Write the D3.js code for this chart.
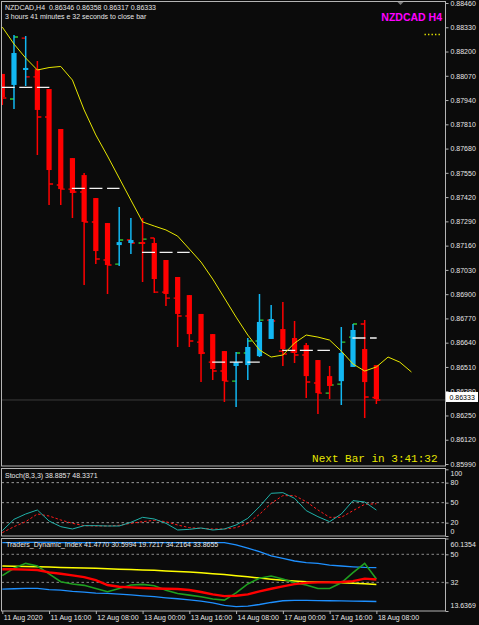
<!DOCTYPE html>
<html><head><meta charset="utf-8">
<script src="https://cdn.jsdelivr.net/npm/d3@7"></script>
<style>
html,body{margin:0;padding:0;background:#0b0b0b;}
svg{display:block;}
text{font-family:"Liberation Sans",Arial,sans-serif;}
</style></head><body>
<svg id="c" width="479" height="625"></svg>
<script>
// ---------------- DATA ----------------
const symbol = "NZDCAD", timeframe = "H4";
const currentOHLC = [0.86346, 0.86358, 0.86317, 0.86333];
const countdownText = "3 hours 41 minutes e 32 seconds to close bar";
const nextBarText = "Next Bar in 3:41:32";

const barTimes = [
  "11 Aug 00:00","11 Aug 04:00","11 Aug 08:00","11 Aug 12:00","11 Aug 16:00","11 Aug 20:00",
  "12 Aug 00:00","12 Aug 04:00","12 Aug 08:00","12 Aug 12:00","12 Aug 16:00","12 Aug 20:00",
  "13 Aug 00:00","13 Aug 04:00","13 Aug 08:00","13 Aug 12:00","13 Aug 16:00","13 Aug 20:00",
  "14 Aug 00:00","14 Aug 04:00","14 Aug 08:00","14 Aug 12:00","14 Aug 16:00","14 Aug 20:00",
  "17 Aug 00:00","17 Aug 04:00","17 Aug 08:00","17 Aug 12:00","17 Aug 16:00","17 Aug 20:00",
  "18 Aug 00:00","18 Aug 04:00","18 Aug 08:00"
];
const timeTickBars   = ["11 Aug 00:00","11 Aug 16:00","12 Aug 08:00","13 Aug 00:00","13 Aug 16:00","14 Aug 08:00","17 Aug 00:00","17 Aug 16:00","18 Aug 08:00"];
const timeTickLabels = ["11 Aug 2020","11 Aug 16:00","12 Aug 08:00","13 Aug 00:00","13 Aug 16:00","14 Aug 08:00","17 Aug 00:00","17 Aug 16:00","18 Aug 08:00"];

// Heiken Ashi candles
const haOpen  = [0.88080,0.88021,0.88101,0.88106,0.87999,0.87785,0.87629,0.87538,0.87415,0.87281,0.87163,0.87174,0.87179,0.87174,0.87083,0.86992,0.86895,0.86794,0.86686,0.86595,0.86515,0.86520,0.86568,0.86660,0.86713,0.86665,0.86627,0.86547,0.86461,0.86434,0.86510,0.86606,0.86520];
const haHigh  = [0.88080,0.88289,0.88283,0.88149,0.87999,0.87785,0.87629,0.87549,0.87415,0.87281,0.87367,0.87308,0.87308,0.87201,0.87083,0.86992,0.86895,0.86794,0.86686,0.86595,0.86590,0.86665,0.86901,0.86842,0.86858,0.86756,0.86638,0.86547,0.86515,0.86724,0.86740,0.86761,0.86520];
const haLow   = [0.87913,0.87892,0.88015,0.87646,0.87378,0.87378,0.87308,0.86949,0.87061,0.86901,0.87051,0.87115,0.86965,0.86906,0.86836,0.86617,0.86617,0.86429,0.86440,0.86322,0.86295,0.86440,0.86563,0.86660,0.86515,0.86531,0.86343,0.86258,0.86338,0.86306,0.86510,0.86236,0.86311];
const haClose = [0.87956,0.88192,0.88112,0.87887,0.87565,0.87463,0.87442,0.87287,0.87131,0.87056,0.87179,0.87190,0.87169,0.86981,0.86901,0.86794,0.86686,0.86579,0.86499,0.86434,0.86536,0.86617,0.86751,0.86767,0.86606,0.86585,0.86461,0.86370,0.86408,0.86585,0.86708,0.86429,0.86338];

// real bars (open / close ticks)
const barOpen  = [0.88074,0.87946,0.88272,0.88064,0.87849,0.87485,0.87463,0.87447,0.87287,0.87083,0.87061,0.87190,0.87174,0.87201,0.86911,0.86879,0.86783,0.86643,0.86536,0.86488,0.86434,0.86585,0.86649,0.86761,0.86595,0.86590,0.86574,0.86424,0.86370,0.86418,0.86670,0.86740,0.86346];
const barClose = [0.87951,0.88278,0.88064,0.87849,0.87490,0.87463,0.87447,0.87287,0.87088,0.87056,0.87190,0.87174,0.87195,0.86911,0.86879,0.86783,0.86649,0.86585,0.86488,0.86434,0.86585,0.86649,0.86761,0.86756,0.86579,0.86574,0.86429,0.86370,0.86413,0.86643,0.86740,0.86349,0.86333];

// shifted moving average (extends 3 bars ahead)
const maValues = [0.88331,0.88240,0.88165,0.88101,0.88114,0.88120,0.88047,0.87887,0.87753,0.87640,0.87522,0.87404,0.87287,0.87265,0.87244,0.87211,0.87142,0.87072,0.86981,0.86879,0.86777,0.86681,0.86601,0.86563,0.86574,0.86638,0.86681,0.86670,0.86654,0.86595,0.86526,0.86488,0.86510,0.86563,0.86536,0.86483];

// daily dashed levels
const dayLevels   = [0.88008,0.87467,0.87124,0.86536,0.86599,0.86665];
const dayStartBar = ["11 Aug 00:00","12 Aug 00:00","13 Aug 00:00","14 Aug 00:00","17 Aug 00:00","18 Aug 00:00"];
const dayBarsSpan = [4,4,4,4,4,2];

const priceTicks = [0.88460,0.88330,0.88200,0.88070,0.87940,0.87810,0.87680,0.87550,0.87420,0.87290,0.87160,0.87030,0.86900,0.86770,0.86640,0.86510,0.86380,0.86250,0.86120,0.85990];

// Stochastic
const stochMain   = [8,25,33,39,22.5,14,10.5,15.5,15.5,15,15,20.5,28,25.5,19,9,10,12,9,10.5,16.5,26.5,44,64,65,56.5,38,29,21.5,33,53,51,38.8857];
const stochSignal = [5,14,21.5,33,30,24,19,15.5,15,15,16,19,21.5,23.5,21.5,16.5,12.5,11.5,10.5,10.5,12.5,19,32.5,49,60.5,60.5,51.5,39,28,28,38,47.5,48.3371];
const stochLevels = [80,50,20];
const stochTicks  = [100,80,50,20,0];

// Traders Dynamic Index
const tdiUpper  = [57.5,57.5,57.6,57.6,57.6,57.5,57.5,57.5,57.5,57.5,57.5,57.5,57.5,57.5,57.5,57.5,57.5,57.5,57.5,57.5,56.0,53.9,51.7,49.0,47.4,45.7,44.6,44.2,43.1,42.5,42.0,41.6,41.4770];
const tdiMiddle = [42.5,42.4,42.2,42.0,41.8,41.6,41.4,41.2,41.0,40.7,40.4,40.2,40.0,39.7,39.3,39.0,38.6,38.2,37.6,37.0,36.3,35.6,34.8,34.0,33.3,32.8,32.4,32.2,32.0,31.7,31.4,31.1,30.5994];
const tdiLower  = [27.7,27.9,28.1,28.1,27.4,27.0,26.2,25.8,25.1,24.9,24.5,24.0,23.4,22.8,22.1,21.5,20.8,20.0,18.9,17.2,16.5,16.8,17.8,19.1,20.2,20.4,20.4,20.3,20.2,20.1,20.0,19.9,19.7217];
const tdiPrice  = [36.3,41.0,44.2,42.5,37.4,32.4,31.0,30.1,28.1,26.0,28.1,30.3,30.7,29.8,27.0,24.9,23.8,22.8,21.3,20.6,25.3,31.0,34.6,36.1,34.2,31.7,30.3,28.1,28.1,31.7,38.2,44.2,34.2164];
const tdiSignal = [40.4,40.4,40.2,39.9,38.4,37.5,36.5,35.4,33.5,30.3,29.2,28.8,28.4,28.1,27.9,27.7,27.1,25.8,24.3,23.2,23.4,24.3,26.2,27.9,29.4,30.9,31.7,32.0,32.0,32.2,32.8,34.4,33.8655];
const tdiLevels = [50,32];
const tdiTicks  = [60.1354,50,32,13.6369];

// ---------------- LAYOUT ----------------
const svg = d3.select("#c");
const BG = "#0b0b0b", FRAME = "#b4b4b4", TXT = "#e6e6e6";
const paneL = 1.5, paneR = 445.5;
const mainTop = 1.5, mainBot = 466;
const stTop = 468.5, stBot = 536;
const tdTop = 538.5, tdBot = 611;

const x  = d3.scaleLinear().domain([0, 35]).range([2.3, 411.45]);
const y  = d3.scaleLinear().domain([0.85990, 0.88460]).range([464, 3]);
const ys = d3.scaleLinear().domain([0, 100]).range([536, 469.3]);
const yt = d3.scaleLinear().domain([13.6369, 60.1354]).range([611, 538.5]);

svg.append("rect").attr("width",479).attr("height",625).attr("fill",BG);

const defs = svg.append("defs");
function clip(id, top, bot){
  defs.append("clipPath").attr("id",id).append("rect")
    .attr("x",paneL).attr("y",top).attr("width",paneR-paneL).attr("height",bot-top);
}
clip("cm", mainTop, mainBot); clip("cs", stTop, stBot); clip("ct", tdTop, tdBot);

// ---------- MAIN PANE ----------
const gm = svg.append("g").attr("clip-path","url(#cm)");
const lastPrice = currentOHLC[3];
gm.append("line").attr("x1",paneL).attr("x2",paneR)
  .attr("y1",y(lastPrice)).attr("y2",y(lastPrice)).attr("stroke","#3c3c3c").attr("stroke-width",1);

const idx = d3.range(haOpen.length);
// real bar ticks
idx.forEach(i=>{
  const col = barClose[i] > barOpen[i] ? "#32cd32" : "#ff0000";
  gm.append("line").attr("x1",x(i)-4).attr("x2",x(i)).attr("y1",y(barOpen[i])).attr("y2",y(barOpen[i]))
    .attr("stroke",col).attr("stroke-width",1.4);
  gm.append("line").attr("x1",x(i)).attr("x2",x(i)+4).attr("y1",y(barClose[i])).attr("y2",y(barClose[i]))
    .attr("stroke",col).attr("stroke-width",1.4);
});
// heiken ashi
const UP = "#12b7f2", DN = "#ff0000";
idx.forEach(i=>{
  const col = haClose[i] >= haOpen[i] ? UP : DN;
  gm.append("line").attr("x1",x(i)).attr("x2",x(i)).attr("y1",y(haHigh[i])).attr("y2",y(haLow[i]))
    .attr("stroke",col).attr("stroke-width",1.5);
  const t = y(Math.max(haOpen[i],haClose[i])), b = y(Math.min(haOpen[i],haClose[i]));
  gm.append("rect").attr("x",x(i)-2.6).attr("width",5.2).attr("y",t).attr("height",Math.max(b-t,1.8)).attr("fill",col);
});
// daily dashed lines
dayLevels.forEach((lv,k)=>{
  const s = barTimes.indexOf(dayStartBar[k]);
  gm.append("line").attr("x1",x(s)-0.6).attr("x2",x(s+dayBarsSpan[k])+0.3)
    .attr("y1",y(lv)).attr("y2",y(lv)).attr("stroke","#f2f2f2").attr("stroke-width",1.4)
    .attr("stroke-dasharray","13,4.6");
});
// moving average
gm.append("path").datum(maValues).attr("fill","none").attr("stroke","#e8e800").attr("stroke-width",1)
  .attr("d", d3.line().x((d,i)=>x(i)).y(d=>y(d)));

// texts in main
svg.append("text").attr("x",5).attr("y",10).attr("font-size","7px").attr("fill",TXT)
  .style("white-space","pre")
  .text(`${symbol},${timeframe}  ${currentOHLC.map(v=>v.toFixed(5)).join(" ")}`);
svg.append("text").attr("x",5).attr("y",19).attr("font-size","7px").attr("fill",TXT).text(countdownText);
svg.append("text").attr("x",442).attr("y",20.5).attr("text-anchor","end").attr("font-size","10.5px")
  .attr("font-weight","bold").attr("fill","#ff00ff").text(`${symbol} ${timeframe}`);
svg.append("line").attr("x1",424.5).attr("x2",442).attr("y1",34.5).attr("y2",34.5)
  .attr("stroke","#e0e000").attr("stroke-width",1.3).attr("stroke-dasharray","1.4,2.1");
svg.append("text").attr("x",437.5).attr("y",462).attr("text-anchor","end")
  .style("font-family","'Liberation Mono','DejaVu Sans Mono',monospace").attr("font-size","11px")
  .attr("fill","#e6e600").style("white-space","pre").text(nextBarText);

// chart-shift marker
svg.append("path").attr("d",`M397,1.5 L404,1.5 L400.5,5 Z`).attr("fill","#7a7a7a");

// ---------- STOCH PANE ----------
const gs = svg.append("g").attr("clip-path","url(#cs)");
stochLevels.forEach(l=>{
  gs.append("line").attr("x1",paneL).attr("x2",paneR).attr("y1",ys(l)).attr("y2",ys(l))
    .attr("stroke","#bdbdbd").attr("stroke-width",0.8).attr("stroke-dasharray","2.5,2.5");
});
const sLine = d3.line().x((d,i)=>x(i)).y(d=>ys(d));
gs.append("path").datum(stochSignal).attr("fill","none").attr("stroke","#ff1a1a").attr("stroke-width",1)
  .attr("stroke-dasharray","2.5,2").attr("d",sLine);
gs.append("path").datum(stochMain).attr("fill","none").attr("stroke","#20b2aa").attr("stroke-width",1).attr("d",sLine);
svg.append("text").attr("x",5).attr("y",478).attr("font-size","7px").attr("fill",TXT)
  .text(`Stoch(8,3,3) ${stochMain[stochMain.length-1].toFixed(4)} ${stochSignal[stochSignal.length-1].toFixed(4)}`);

// ---------- TDI PANE ----------
const gt = svg.append("g").attr("clip-path","url(#ct)");
tdiLevels.forEach(l=>{
  gt.append("line").attr("x1",paneL).attr("x2",paneR).attr("y1",yt(l)).attr("y2",yt(l))
    .attr("stroke","#a8a8a8").attr("stroke-width",0.8).attr("stroke-dasharray","2.5,2.5");
});
const tLine = d3.line().x((d,i)=>x(i)).y(d=>yt(d));
[[tdiUpper,"#1e90ff",1.3],[tdiLower,"#1e90ff",1.3],[tdiMiddle,"#ffff00",1.5],[tdiPrice,"#1f9f1f",1.6],[tdiSignal,"#ff0000",2.4]]
  .forEach(([arr,col,w])=>{
    gt.append("path").datum(arr).attr("fill","none").attr("stroke",col).attr("stroke-width",w).attr("d",tLine);
  });
svg.append("text").attr("x",6).attr("y",547).attr("font-size","7px").attr("fill",TXT)
  .text("Traders_Dynamic_Index " + [tdiUpper,tdiMiddle,tdiLower,tdiPrice,tdiSignal].map(a=>a[a.length-1].toFixed(4)).join(" "));

// ---------- FRAMES ----------
[[mainTop,mainBot],[stTop,stBot],[tdTop,tdBot]].forEach(([t,b])=>{
  svg.append("rect").attr("x",paneL).attr("y",t).attr("width",paneR-paneL).attr("height",b-t)
    .attr("fill","none").attr("stroke",FRAME).attr("stroke-width",1);
});

// ---------- AXES ----------
function styleAxis(g){
  g.select(".domain").remove();
  g.selectAll(".tick line").attr("stroke",FRAME);
  g.selectAll(".tick text").attr("fill",TXT).attr("font-size","7px");
}
const pa = svg.append("g").attr("transform",`translate(${paneR},0)`)
  .call(d3.axisRight(y).tickValues(priceTicks).tickFormat(d3.format(".5f")).tickSize(3).tickPadding(2));
styleAxis(pa);

const sa = svg.append("g").attr("transform",`translate(${paneR},0)`)
  .call(d3.axisRight(ys).tickValues(stochTicks).tickSize(3).tickPadding(2));
styleAxis(sa);
sa.selectAll(".tick text").attr("y",d=> d===100 ? 4 : (d===0 ? -4.3 : 0));

const ta = svg.append("g").attr("transform",`translate(${paneR},0)`)
  .call(d3.axisRight(yt).tickValues(tdiTicks).tickFormat(d=> (d===50||d===32)? String(d) : d.toFixed(4)).tickSize(3).tickPadding(2));
styleAxis(ta);
ta.selectAll(".tick text").attr("y",(d,i)=> i===0 ? 5.5 : (i===tdiTicks.length-1 ? -5.3 : 0));

const tickIdx = timeTickBars.map(t=>barTimes.indexOf(t));
const xa = svg.append("g").attr("transform",`translate(0,${tdBot})`)
  .call(d3.axisBottom(x).tickValues(tickIdx).tickFormat((d,i)=>timeTickLabels[i]).tickSize(3).tickPadding(1));
styleAxis(xa);
xa.selectAll(".tick text").attr("text-anchor","start").attr("x",1);

// last price label
const lp = y(lastPrice);
svg.append("rect").attr("x",446).attr("y",lp-8).attr("width",32).attr("height",10).attr("fill","#ffffff");
svg.append("text").attr("x",449.5).attr("y",lp).attr("font-size","7px").attr("fill","#000").text(lastPrice.toFixed(5));
</script>
</body></html>
